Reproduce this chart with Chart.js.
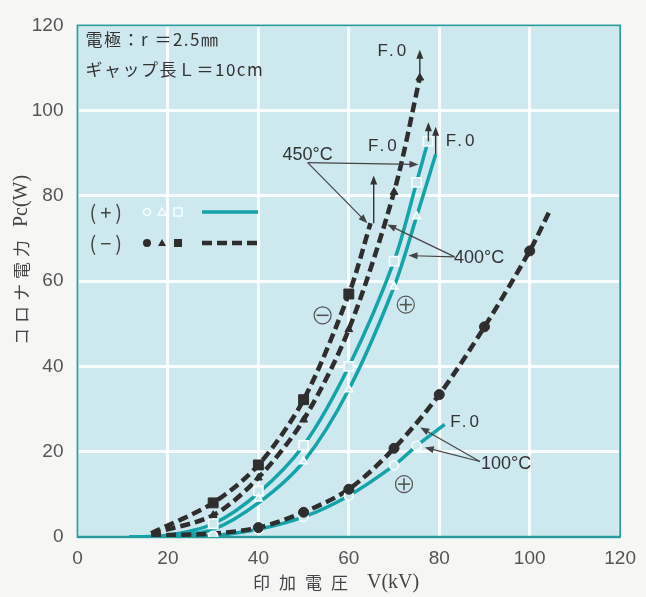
<!DOCTYPE html>
<html>
<head>
<meta charset="utf-8">
<script src="https://cdn.jsdelivr.net/npm/chart.js@4"></script>
<style>
  html, body { margin: 0; padding: 0; background: #f6f6f4; }
  #wrap { width: 646px; height: 597px; }
</style>
</head>
<body>
<div id="wrap"><canvas id="c" width="646" height="597"></canvas></div>
<script>
// ---- Axis ticks ----
const xTicks = [0, 20, 40, 60, 80, 100, 120];   // 印加電圧 V (kV)
const yTicks = [0, 20, 40, 60, 80, 100, 120];   // コロナ電力 Pc (W)

// ---- Measured points: (+) polarity, open markers ----
const kvPlus100 = [30, 40, 50, 60, 70, 75];
const pcPlus100 = [0.3, 1.8, 4.7, 9.7, 16.8, 21.4];
const kvPlus400 = [40, 50, 60, 70, 75];
const pcPlus400 = [9.0, 17.7, 34.6, 58.7, 75.2];
const kvPlus450 = [30, 40, 50, 60, 70, 75, 77.5];
const pcPlus450 = [3.1, 10.8, 21.5, 40.0, 64.7, 83.2, 92.8];

// ---- Measured points: (−) polarity, filled markers ----
const kvMinus100 = [40, 50, 60, 70, 80, 90, 100];
const pcMinus100 = [2.2, 5.8, 11.2, 20.8, 33.4, 49.3, 67.1];
const kvMinus400 = [30, 40, 50, 60, 70, 75.7];
const pcMinus400 = [5.1, 13.9, 27.5, 48.7, 80.9, 107.7];
const kvMinus450 = [30, 40, 50, 60];
const pcMinus450 = [8.0, 16.9, 32.2, 57.0];

// ---- Fitted curves (onset and end points) ----
const curvePlus100Kv = [11.5, 22, 30, 40, 50, 60, 70, 75, 81.2];
const curvePlus100Pc = [0, 0.05, 0.3, 1.8, 4.7, 9.7, 16.8, 21.4, 26.4];
const curvePlus400Kv = [11.5, 20, 30, 40, 50, 60, 70, 75, 79.2];
const curvePlus400Pc = [0, 0.2, 1.8, 8.0, 17.7, 34.6, 58.7, 75.2, 89.7];
const curvePlus450Kv = [11.5, 20, 30, 40, 50, 60, 70, 75, 77.5];
const curvePlus450Pc = [0, 0.4, 3.1, 10.3, 21.5, 40.0, 64.7, 83.2, 92.8];
const curveMinus100Kv = [16.3, 30, 40, 50, 60, 70, 80, 90, 100, 104.6];
const curveMinus100Pc = [0.4, 0.8, 2.2, 5.8, 11.2, 20.8, 33.4, 49.3, 67.1, 76.9];
const curveMinus400Kv = [16.3, 30, 40, 50, 60, 70, 75.7];
const curveMinus400Pc = [0.8, 5.1, 13.9, 27.5, 48.7, 80.9, 107.7];
const curveMinus450Kv = [16.3, 30, 40, 50, 60, 64.8];
const curveMinus450Pc = [0.9, 8.0, 16.9, 32.2, 57.0, 73.6];

// ---- Flashover (F.0) arrows: x, from, to ----
const foArrowKv = [75.7, 65.5, 77.6, 79.2];
const foArrowFrom = [107.7, 73.6, 92.8, 89.7];
const foArrowTo = [114.3, 84.8, 97.3, 96.2];
const foLabelKv = [69.5, 67.4, 84.6, 85.6];
const foLabelPc = [113.9, 91.6, 92.9, 26.9];

// ---- Temperature call-outs ----
const tempLabels = ['450°C', '400°C', '100°C'];
const tempLabelKv = [50.9, 88.8, 94.8];
const tempLabelPc = [89.7, 65.5, 17.0];
const tempOriginKv = [50.9, 83.4, 89.0];
const tempOriginPc = [87.8, 65.7, 17.7];
const tempTargetKv = [[75.4, 64.1], [68.5, 73.2], [75.8, 76.8]];
const tempTargetPc = [[87.4, 73.6], [73.3, 66.0], [25.7, 21.0]];

// ---- Polarity marks ----
const signText = ['−', '+', '+'];
const signKv = [54.2, 72.6, 72.2];
const signPc = [52.0, 54.5, 12.4];

const TEAL = '#14a3a8';
const DARK = '#2e2e2e';
const PLOT_BG = '#cde8ee';
const OPEN_EDGE = '#f6fdfe';

const pts = (xs, ys) => xs.map((x, i) => ({ x, y: ys[i] }));

function curve(xs, ys, dashed) {
  return {
    data: pts(xs, ys), showLine: true, pointRadius: 0, pointHoverRadius: 0,
    borderColor: dashed ? DARK : TEAL, borderWidth: dashed ? 4.5 : 3.5,
    borderDash: dashed ? [10, 5] : [], tension: 0.3,
    borderCapStyle: 'butt', fill: false, order: dashed ? 2 : 3
  };
}
function markers(xs, ys, style, open, r) {
  return {
    data: pts(xs, ys), showLine: false, pointStyle: style, pointRadius: r,
    pointBackgroundColor: open ? PLOT_BG : DARK,
    pointBorderColor: open ? OPEN_EDGE : DARK,
    pointBorderWidth: open ? 1.6 : 1, order: open ? 1 : 0
  };
}

const datasets = [
  curve(curvePlus100Kv, curvePlus100Pc, false),
  curve(curvePlus400Kv, curvePlus400Pc, false),
  curve(curvePlus450Kv, curvePlus450Pc, false),
  curve(curveMinus100Kv, curveMinus100Pc, true),
  curve(curveMinus400Kv, curveMinus400Pc, true),
  curve(curveMinus450Kv, curveMinus450Pc, true),
  markers(kvPlus100, pcPlus100, 'circle', true, 4.5),
  markers(kvPlus400, pcPlus400, 'triangle', true, 4.5),
  markers(kvPlus450, pcPlus450, 'rect', true, 6.5),
  markers(kvMinus100, pcMinus100, 'circle', false, 5),
  markers(kvMinus400, pcMinus400, 'triangle', false, 4.5),
  markers(kvMinus450, pcMinus450, 'rect', false, 7)
];

function arrowHead(ctx, x, y, angle, len, half) {
  ctx.save();
  ctx.translate(x, y);
  ctx.rotate(angle);
  ctx.beginPath();
  ctx.moveTo(0, 0);
  ctx.lineTo(-len, -half);
  ctx.lineTo(-len, half);
  ctx.closePath();
  ctx.fill();
  ctx.restore();
}
function arrow(ctx, x0, y0, x1, y1) {
  const a = Math.atan2(y1 - y0, x1 - x0);
  ctx.beginPath();
  ctx.moveTo(x0, y0);
  ctx.lineTo(x1 - Math.cos(a) * 5, y1 - Math.sin(a) * 5);
  ctx.stroke();
  arrowHead(ctx, x1, y1, a, 9, 3.5);
}

const decor = {
  id: 'decor',
  beforeDraw(chart) {
    const { ctx, chartArea: a } = chart;
    ctx.save();
    ctx.fillStyle = '#f6f6f4';
    ctx.fillRect(0, 0, chart.width, chart.height);
    ctx.fillStyle = PLOT_BG;
    ctx.fillRect(a.left, a.top, a.right - a.left, a.bottom - a.top);
    ctx.restore();
  },
  beforeDatasetsDraw(chart) {
    const { ctx, chartArea: a } = chart;
    ctx.save();
    ctx.strokeStyle = '#2b9c9e';
    ctx.lineWidth = 1.8;
    ctx.strokeRect(a.left, a.top, a.right - a.left, a.bottom - a.top);
    ctx.lineWidth = 2.6;
    ctx.beginPath();
    ctx.moveTo(a.left, a.bottom); ctx.lineTo(a.right, a.bottom);
    ctx.stroke();
    ctx.restore();
  },
  afterDatasetsDraw(chart) {
    const { ctx, chartArea: a } = chart;
    const X = v => chart.scales.x.getPixelForValue(v);
    const Y = v => chart.scales.y.getPixelForValue(v);
    ctx.save();
    ctx.fillStyle = '#333';
    ctx.strokeStyle = '#333';
    ctx.lineWidth = 1.4;

    // F.0 arrows and labels
    foArrowKv.forEach((k, i) => arrow(ctx, X(k), Y(foArrowFrom[i]), X(k), Y(foArrowTo[i])));
    ctx.font = '17px "Liberation Sans", Arial, sans-serif';
    ctx.textAlign = 'center';
    ctx.textBaseline = 'middle';
    ctx.letterSpacing = '3px';
    foLabelKv.forEach((k, i) => ctx.fillText('F.0', X(k) + 1.5, Y(foLabelPc[i])));
    ctx.letterSpacing = '0px';

    // temperature call-outs
    ctx.lineWidth = 1.2;
    ctx.strokeStyle = '#444';
    ctx.fillStyle = '#444';
    tempLabels.forEach((t, i) => {
      const ox = X(tempOriginKv[i]), oy = Y(tempOriginPc[i]);
      tempTargetKv[i].forEach((k, j) => arrow(ctx, ox, oy, X(k), Y(tempTargetPc[i][j])));
    });
    ctx.fillStyle = '#333';
    ctx.font = '18px "Liberation Sans Narrow", "Liberation Sans", sans-serif';
    tempLabels.forEach((t, i) => ctx.fillText(t, X(tempLabelKv[i]), Y(tempLabelPc[i])));

    // polarity marks
    ctx.lineWidth = 1.2;
    ctx.strokeStyle = '#555';
    signKv.forEach((k, i) => {
      const cx = X(k), cy = Y(signPc[i]);
      ctx.beginPath(); ctx.arc(cx, cy, 8.5, 0, Math.PI * 2); ctx.stroke();
      ctx.lineWidth = 1.6;
      ctx.beginPath(); ctx.moveTo(cx - 6, cy); ctx.lineTo(cx + 6, cy); ctx.stroke();
      if (signText[i] === '+') { ctx.beginPath(); ctx.moveTo(cx, cy - 6); ctx.lineTo(cx, cy + 6); ctx.stroke(); }
      ctx.lineWidth = 1.2;
    });

    // condition text
    ctx.textAlign = 'left';
    ctx.fillStyle = '#333';
    ctx.font = '17px "Noto Sans CJK JP", sans-serif';
    ctx.letterSpacing = '1.5px';
    ctx.fillText('電極：r ＝2.5㎜', a.left + 8, 40);
    ctx.fillText('ギャップ長Ｌ＝10cm', a.left + 8, 70);

    // legend
    ctx.font = '20px "Noto Sans CJK JP", sans-serif';
    ctx.letterSpacing = '4px';
    ctx.fillStyle = '#444';
    ctx.fillText('(+)', a.left + 12, 212);
    ctx.fillText('(−)', a.left + 12, 243);
    ctx.letterSpacing = '0px';
    const lx = [147, 162, 178];
    // open markers row
    ctx.strokeStyle = OPEN_EDGE; ctx.lineWidth = 1.5; ctx.fillStyle = PLOT_BG;
    ctx.beginPath(); ctx.arc(lx[0], 212, 3.5, 0, Math.PI * 2); ctx.fill(); ctx.stroke();
    ctx.beginPath(); ctx.moveTo(lx[1], 208); ctx.lineTo(lx[1] + 4, 215); ctx.lineTo(lx[1] - 4, 215); ctx.closePath(); ctx.fill(); ctx.stroke();
    ctx.fillRect(lx[2] - 4, 208, 8, 8); ctx.strokeRect(lx[2] - 4, 208, 8, 8);
    ctx.strokeStyle = TEAL; ctx.lineWidth = 3.5;
    ctx.beginPath(); ctx.moveTo(202, 212); ctx.lineTo(258, 212); ctx.stroke();
    // filled markers row
    ctx.fillStyle = DARK;
    ctx.beginPath(); ctx.arc(lx[0], 243, 4, 0, Math.PI * 2); ctx.fill();
    ctx.beginPath(); ctx.moveTo(lx[1], 239); ctx.lineTo(lx[1] + 4, 246); ctx.lineTo(lx[1] - 4, 246); ctx.closePath(); ctx.fill();
    ctx.fillRect(lx[2] - 4, 239, 8, 8);
    ctx.strokeStyle = DARK; ctx.lineWidth = 4.5; ctx.setLineDash([10, 5]);
    ctx.beginPath(); ctx.moveTo(202, 243); ctx.lineTo(260, 243); ctx.stroke();
    ctx.setLineDash([]);
    ctx.restore();
  },
  afterDraw(chart) {
    const { ctx } = chart;
    ctx.save();
    ctx.fillStyle = '#444';
    ctx.textBaseline = 'middle';
    // x-axis title
    ctx.font = '17px "Noto Sans CJK JP", sans-serif';
    ctx.letterSpacing = '9px';
    const jp = '印加電圧';
    ctx.textAlign = 'left';
    ctx.fillText(jp, 253, 583);
    const w1 = ctx.measureText(jp).width;
    ctx.letterSpacing = '0px';
    ctx.font = '20px "Liberation Serif", serif';
    ctx.fillText('V(kV)', 253 + w1 + 10, 583);
    // y-axis title
    ctx.translate(22, 260);
    ctx.rotate(-Math.PI / 2);
    ctx.textAlign = 'left';
    ctx.font = '17px "Noto Sans CJK JP", sans-serif';
    ctx.letterSpacing = '5px';
    const jy = 'コロナ電力';
    const wj = ctx.measureText(jy).width;
    ctx.letterSpacing = '0px';
    ctx.font = '20px "Liberation Serif", serif';
    const wp = ctx.measureText('Pc(W)').width;
    const start = -(wj + 8 + wp) / 2;
    ctx.font = '17px "Noto Sans CJK JP", sans-serif';
    ctx.letterSpacing = '5px';
    ctx.fillText(jy, start, 0);
    ctx.letterSpacing = '0px';
    ctx.font = '20px "Liberation Serif", serif';
    ctx.fillText('Pc(W)', start + wj + 8, 0);
    ctx.restore();
  }
};

new Chart(document.getElementById('c'), {
  type: 'scatter',
  data: { datasets },
  options: {
    responsive: false,
    animation: false,
    devicePixelRatio: 1,
    layout: { padding: { top: 14, right: 21, left: 0, bottom: 0 } },
    plugins: { legend: { display: false }, tooltip: { enabled: false } },
    scales: {
      x: {
        type: 'linear', min: 0, max: 120,
        afterBuildTicks: s => { s.ticks = xTicks.map(v => ({ value: v })); },
        afterFit: s => { s.height = 60; },
        grid: { color: 'rgba(255,255,255,0.85)', lineWidth: 3, drawTicks: false },
        border: { display: false },
        ticks: { padding: 10, color: '#555', font: { family: '"Liberation Sans Narrow", "Liberation Sans", sans-serif', size: 19 } }
      },
      y: {
        type: 'linear', min: 0, max: 120,
        afterBuildTicks: s => { s.ticks = yTicks.map(v => ({ value: v })); },
        afterFit: s => { s.width = 77.5; },
        grid: { color: 'rgba(255,255,255,0.85)', lineWidth: 3, drawTicks: false },
        border: { display: false },
        ticks: { padding: 14, color: '#555', font: { family: '"Liberation Sans Narrow", "Liberation Sans", sans-serif', size: 19 } }
      }
    }
  },
  plugins: [decor]
});
</script>
</body>
</html>
